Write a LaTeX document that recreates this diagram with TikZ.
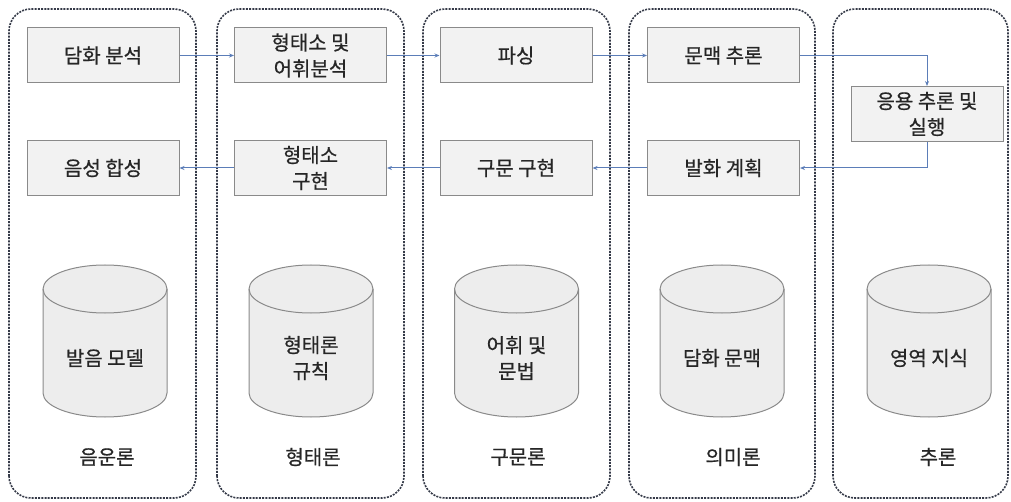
\documentclass[tikz,border=0pt]{standalone}
\usepackage{fontspec}
\setmainfont{Noto Sans CJK KR}[FakeBold=0.6]
\usetikzlibrary{arrows.meta}
\definecolor{boxfill}{HTML}{F2F2F2}
\definecolor{boxline}{HTML}{8A8A8A}
\definecolor{cylfill}{HTML}{EDEDED}
\definecolor{grpline}{HTML}{353A48}
\definecolor{arrowc}{HTML}{5B7DB8}
\definecolor{txt}{HTML}{262626}
\newcommand{\mycyl}[3]{%
  \filldraw[cylstyle] (#1-62,212) -- (#1-62,108) arc[start angle=180,end angle=360,x radius=62pt,y radius=24pt] -- (#1+62,212) arc[start angle=0,end angle=180,x radius=62pt,y radius=24pt] -- cycle;
  \draw[cylstyle,fill=none] (#1-62,212) arc[start angle=180,end angle=360,x radius=62pt,y radius=24pt];
  \node[cyltext] (#2) at (#1,143) {#3};
}
\begin{document}
\begin{tikzpicture}[x=1pt,y=1pt,
  grp/.style={draw=grpline,line width=1.6pt,dash pattern=on 2pt off 1.2pt,rounded corners=22pt},
  procbox/.style={draw=boxline,fill=boxfill,line width=1pt,minimum width=152pt,minimum height=55pt,inner sep=0pt,align=center,text=txt,font=\fontsize{20}{26}\selectfont},
  cylstyle/.style={draw=boxline,fill=cylfill,line width=1pt},
  cyltext/.style={align=center,text=txt,font=\fontsize{20}{26}\selectfont},
  lbl/.style={text=txt,font=\fontsize{20}{26}\selectfont},
  flow/.style={draw=arrowc,line width=1pt,-{Stealth[length=5pt,width=4pt]}}]
\useasboundingbox (0,0) rectangle (1011,501);
% groups
\draw[grp] (9,3) rectangle (196,492);
\draw[grp] (217,3) rectangle (404,492);
\draw[grp] (423,3) rectangle (610,492);
\draw[grp] (629,3) rectangle (815,492);
\draw[grp] (833,3) rectangle (1008,492);
% top row
\node[procbox] (a1) at (103,445.5) {담화 분석};
\node[procbox] (a2) at (310.5,445.5) {형태소 및\\어휘분석};
\node[procbox] (a3) at (516,445.5) {파싱};
\node[procbox] (a4) at (723.5,445.5) {문맥 추론};
\node[procbox] (a5) at (927,387) {응용 추론 및\\실행};
% bottom row
\node[procbox] (b1) at (103,333) {음성 합성};
\node[procbox] (b2) at (310.5,333) {형태소\\구현};
\node[procbox] (b3) at (516,333) {구문 구현};
\node[procbox] (b4) at (723.5,333) {발화 계획};
% arrows
\draw[flow] (a1) -- (a2);
\draw[flow] (a2) -- (a3);
\draw[flow] (a3) -- (a4);
\draw[flow] (a4) -| (a5);
\draw[flow] (a5) |- (b4);
\draw[flow] (b4) -- (b3);
\draw[flow] (b3) -- (b2);
\draw[flow] (b2) -- (b1);
% cylinders
\mycyl{105}{d1}{발음 모델}
\mycyl{311}{d2}{형태론\\규칙}
\mycyl{516.5}{d3}{어휘 및\\문법}
\mycyl{722}{d4}{담화 문맥}
\mycyl{929}{d5}{영역 지식}
% labels
\node[lbl] (l1) at (107,44) {음운론};
\node[lbl] (l2) at (313,44) {형태론};
\node[lbl] (l3) at (518,44) {구문론};
\node[lbl] (l4) at (733,44) {의미론};
\node[lbl] (l5) at (938,44) {추론};
\end{tikzpicture}
\end{document}
